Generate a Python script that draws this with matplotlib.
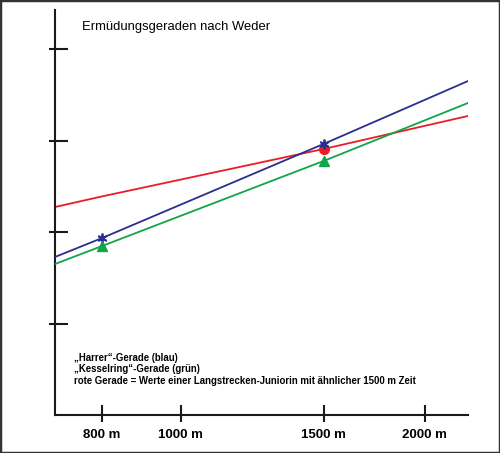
import matplotlib
matplotlib.use("Agg")
import matplotlib.pyplot as plt
from matplotlib.patches import Rectangle

plt.rcParams['font.family'] = ['Liberation Sans', 'DejaVu Sans']

# data
distances = [700, 800, 1500, 2260]
harrer = [1.727, 1.934, 2.962, 3.650]      # blue
kesselring = [1.650, 1.847, 2.776, 3.410]  # green
junior = [2.273, 2.389, 2.907, 3.268]      # red
xtick_values = [800, 1000, 1500, 2000]
xtick_labels = ["800 m", "1000 m", "1500 m", "2000 m"]
ytick_values = [1, 2, 3, 4]
title = "Ermüdungsgeraden nach Weder"
notes = ["\u201eHarrer\u201c-Gerade (blau)",
         "\u201eKesselring\u201c-Gerade (grün)",
         "rote Gerade = Werte einer Langstrecken-Juniorin mit ähnlicher 1500 m Zeit"]

fig = plt.figure(figsize=(5.0, 4.53), dpi=100)
ax = fig.add_axes([55/500, 1-415/453, (468-55)/500, (415-10)/453])

blue = "#2A2E8E"
green = "#12A44A"
red = "#EC1C24"
ax.plot(distances, harrer, color=blue, lw=1.3, marker=(6, 2, 0), markersize=7,
        markeredgewidth=1.3, markevery=[1, 2], zorder=3)
ax.plot(distances, kesselring, color=green, lw=1.3, marker="^", markersize=6.5,
        markevery=[1, 2], zorder=3)
ax.plot(distances, junior, color=red, lw=1.3, marker="o", markersize=7,
        markevery=[2], zorder=2)

ax.set_xscale("log")
ax.set_xlim(700, 2260)
ax.set_ylim(0, 405/91.5)
ax.xaxis.remove_overlapping_locs = False
ax.yaxis.remove_overlapping_locs = False
ax.set_xticks(xtick_values)
ax.set_xticklabels(xtick_labels, fontsize=9.5, fontweight="bold")
ax.set_xticks(xtick_values, minor=True)
ax.set_xticklabels([], minor=True)
ax.set_yticks(ytick_values)
ax.set_yticklabels([])
ax.set_yticks(ytick_values, minor=True)
ax.set_yticklabels([], minor=True)
for s in ["top", "right"]:
    ax.spines[s].set_visible(False)
for s in ["left", "bottom"]:
    ax.spines[s].set_linewidth(1.5)
    ax.spines[s].set_color("#1a1a1a")
tc = "#1a1a1a"
ax.tick_params(axis="x", which="major", direction="out", length=5, width=1.5, pad=5, color=tc)
ax.tick_params(axis="x", which="minor", direction="in", length=7, width=1.5, color=tc)
ax.tick_params(axis="y", which="major", direction="out", length=4, width=1.5, color=tc)
ax.tick_params(axis="y", which="minor", direction="in", length=9, width=1.5, color=tc)

fig.text(82/500, 1-30/453, title, fontsize=9.4, ha="left", va="baseline")
for i, t in enumerate(notes):
    fig.text(74/500, 1-(361+i*11.5)/453, t, fontsize=6.95, fontweight="bold",
             ha="left", va="baseline")

fig.patches.append(Rectangle((0, 0), 1, 1, transform=fig.transFigure, fill=False,
                             edgecolor="#333333", linewidth=2.5))
fig.savefig("out.png", dpi=100)
